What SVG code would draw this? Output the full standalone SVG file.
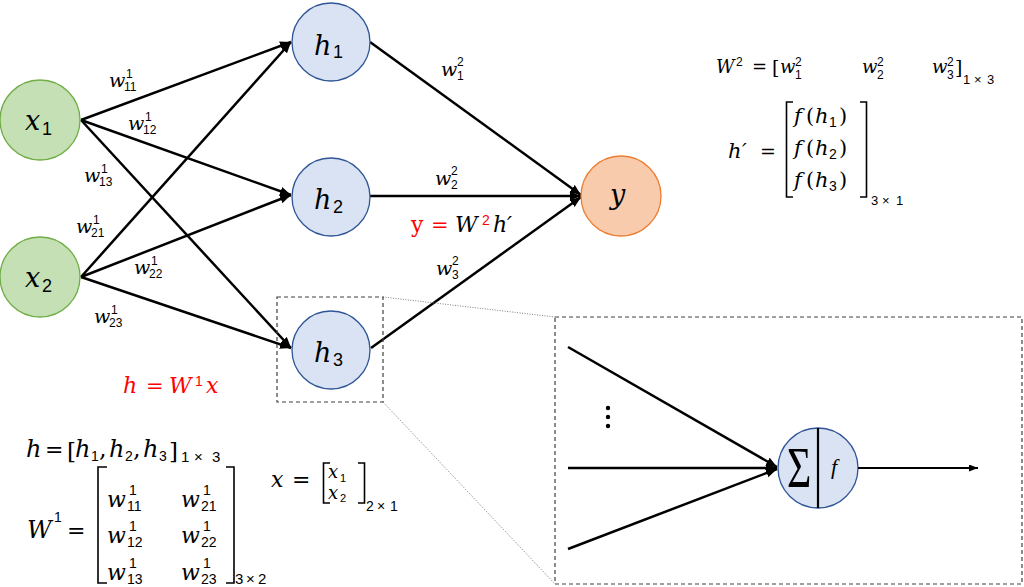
<svg xmlns="http://www.w3.org/2000/svg" width="1024" height="587" viewBox="0 0 1024 587">
<style>
.in{fill:#c5e0b4;stroke:#70ad47;stroke-width:1.3}
.hid{fill:#dae3f3;stroke:#2f5597;stroke-width:1.3}
.out{fill:#f8cbad;stroke:#ed7d31;stroke-width:1.3}
.edge{stroke:#000;stroke-width:2.5;fill:none;marker-end:url(#ah)}
.thin{stroke:#000;stroke-width:2;fill:none}
.dash{fill:none;stroke:#404040;stroke-width:1.2;stroke-dasharray:4 3}
.dot{fill:none;stroke:#808080;stroke-width:1;stroke-dasharray:1 1.5}
.br{fill:none;stroke:#000;stroke-width:1.6}
.m{font-family:"DejaVu Serif",serif;font-style:italic;fill:#000}
.u{font-family:"DejaVu Serif",serif;font-style:normal}
.n{font-family:"Liberation Sans",Arial,sans-serif;font-style:normal}
.node{font-size:27px}
.ns{font-size:18px}
.wl{font-size:19px}
.sd{font-size:12px}
.red{fill:#ff0000}
</style>
<defs>
<marker id="ah" markerUnits="userSpaceOnUse" markerWidth="12" markerHeight="10" refX="11" refY="4.5" orient="auto">
<path d="M0,0 L11,4.5 L0,9 z" fill="#000"/>
</marker>
<marker id="ahs" markerUnits="userSpaceOnUse" markerWidth="10" markerHeight="8" refX="9" refY="3.5" orient="auto">
<path d="M0,0 L9,3.5 L0,7 z" fill="#000"/>
</marker>
</defs>
<rect width="1024" height="587" fill="#fff"/>

<g id="connectors">
<path class="edge" d="M81,120 L291,42"/>
<path class="edge" d="M81,120 L291,195"/>
<path class="edge" d="M81,120 L291,348"/>
<path class="edge" d="M81,277 L291,42"/>
<path class="edge" d="M81,277 L291,195"/>
<path class="edge" d="M81,277 L291,348"/>
<path class="edge" d="M370,42 L581,195"/>
<path class="edge" d="M370,196 L581,196"/>
<path class="edge" d="M371,348 L581,197"/>
<path class="dot" d="M383,297 L555,317"/>
<path class="dot" d="M383,402 L555,584"/>
</g>

<g id="edge-labels">
<text class="m wl" x="109" y="87">w<tspan class="n sd" x="126" y="78">1</tspan><tspan class="n sd" x="124" y="91">11</tspan></text>
<text class="m wl" x="128" y="130">w<tspan class="n sd" x="145" y="121">1</tspan><tspan class="n sd" x="143" y="134">12</tspan></text>
<text class="m wl" x="84" y="182">w<tspan class="n sd" x="101" y="173">1</tspan><tspan class="n sd" x="99" y="186">13</tspan></text>
<text class="m wl" x="76" y="233">w<tspan class="n sd" x="93" y="224">1</tspan><tspan class="n sd" x="91" y="237">21</tspan></text>
<text class="m wl" x="134" y="274">w<tspan class="n sd" x="151" y="265">1</tspan><tspan class="n sd" x="149" y="278">22</tspan></text>
<text class="m wl" x="94" y="323">w<tspan class="n sd" x="111" y="314">1</tspan><tspan class="n sd" x="109" y="327">23</tspan></text>
<text class="m wl" x="441" y="76">w<tspan class="n sd" x="457" y="66">2</tspan><tspan class="n sd" x="457" y="80">1</tspan></text>
<text class="m wl" x="435" y="185">w<tspan class="n sd" x="451" y="175">2</tspan><tspan class="n sd" x="451" y="189">2</tspan></text>
<text class="m wl" x="436" y="275">w<tspan class="n sd" x="452" y="265">2</tspan><tspan class="n sd" x="452" y="279">3</tspan></text>
</g>

<g id="x1"><circle class="in" cx="40" cy="120" r="40"/><text class="m node" x="25" y="130">x<tspan class="n ns" x="42" y="135">1</tspan></text></g>
<g id="x2"><circle class="in" cx="40" cy="277" r="40"/><text class="m node" x="25" y="287">x<tspan class="n ns" x="42" y="292">2</tspan></text></g>
<g id="h1"><circle class="hid" cx="331" cy="42" r="39"/><text class="m node" x="314" y="55">h<tspan class="n ns" x="333" y="58">1</tspan></text></g>
<g id="h2"><circle class="hid" cx="331" cy="197" r="39"/><text class="m node" x="314" y="209">h<tspan class="n ns" x="333" y="213">2</tspan></text></g>
<g id="h3"><circle class="hid" cx="331" cy="350" r="39"/><text class="m node" x="314" y="362">h<tspan class="n ns" x="333" y="366">3</tspan></text></g>
<g id="y"><circle class="out" cx="621" cy="196" r="40"/><text class="m node" x="610" y="204">y</text></g>

<g id="zoom-box-small"><rect class="dash" x="277" y="297" width="106" height="105"/></g>

<g id="neuron-detail">
<rect class="dash" x="555" y="317" width="467" height="267"/>
<path class="edge" d="M568,347 L777,467"/>
<path class="edge" d="M568,468 L777,468"/>
<path class="edge" d="M568,549 L777,469"/>
<circle cx="608" cy="408" r="2.2" fill="#000"/>
<circle cx="608" cy="417" r="2.2" fill="#000"/>
<circle cx="608" cy="426" r="2.2" fill="#000"/>
<circle class="hid" cx="818" cy="468" r="40"/>
<line x1="818" y1="428" x2="818" y2="508" stroke="#000" stroke-width="2.2"/>
<text font-family="Liberation Serif,serif" font-size="58" transform="translate(787,487) scale(0.72,1)">Σ</text>
<text font-family="Liberation Serif,serif" font-style="italic" font-size="22" x="831" y="474">f</text>
<path class="thin" d="M858,468 L978,468" marker-end="url(#ahs)"/>
</g>

<g id="eq-red1">
<text class="m red" font-size="22" x="123" y="393">h<tspan class="u" font-size="21" x="146">=</tspan><tspan x="169">W</tspan><tspan class="n" font-size="14" x="195" y="386">1</tspan><tspan x="206" y="393">x</tspan></text>
</g>
<g id="eq-red2">
<text class="u red" font-size="22" x="411" y="232">y<tspan font-size="21" x="431">=</tspan><tspan class="m" x="455">W</tspan><tspan class="n" font-size="14" x="482" y="225">2</tspan><tspan class="m" x="493" y="232">h</tspan><tspan class="m" x="507">′</tspan></text>
</g>

<g id="eq-W2">
<text class="m" font-size="18" x="716" y="73">W<tspan class="n" font-size="12" x="736" y="66">2</tspan><tspan class="u" font-size="18" x="752" y="73">=</tspan><tspan class="u" font-size="19" x="772" y="74">[</tspan><tspan x="780" y="73">w</tspan><tspan class="n" font-size="12" x="795" y="66">2</tspan><tspan class="n" font-size="12" x="795" y="79">1</tspan><tspan x="862" y="73">w</tspan><tspan class="n" font-size="12" x="877" y="66">2</tspan><tspan class="n" font-size="12" x="877" y="79">2</tspan><tspan x="932" y="73">w</tspan><tspan class="n" font-size="12" x="947" y="66">2</tspan><tspan class="n" font-size="12" x="947" y="79">3</tspan><tspan class="u" font-size="19" x="955" y="74">]</tspan><tspan class="n" font-size="13" x="963" y="84">1</tspan><tspan class="n" font-size="13" x="974" y="84">×</tspan><tspan class="n" font-size="13" x="987" y="84">3</tspan></text>
</g>

<g id="eq-hprime">
<text class="m" font-size="21" x="728" y="158">h<tspan x="742">′</tspan><tspan class="u" font-size="19" x="760">=</tspan></text>
<path class="br" d="M793,102 H786.5 V197 H793"/>
<path class="br" d="M860,102 H866.5 V197 H860"/>
<text class="m" font-size="21" x="794" y="123">f<tspan class="u" x="806">(</tspan><tspan x="815">h</tspan><tspan class="n" font-size="14" x="829" y="127">1</tspan><tspan class="u" x="839" y="123">)</tspan></text>
<text class="m" font-size="21" x="794" y="155">f<tspan class="u" x="806">(</tspan><tspan x="815">h</tspan><tspan class="n" font-size="14" x="829" y="159">2</tspan><tspan class="u" x="839" y="155">)</tspan></text>
<text class="m" font-size="21" x="794" y="187">f<tspan class="u" x="806">(</tspan><tspan x="815">h</tspan><tspan class="n" font-size="14" x="829" y="191">3</tspan><tspan class="u" x="839" y="187">)</tspan></text>
<text class="n" font-size="13" x="871" y="205">3<tspan x="882">×</tspan><tspan x="896">1</tspan></text>
</g>

<g id="eq-h">
<text class="m" font-size="24" x="26" y="457">h<tspan class="u" font-size="22" x="45">=</tspan><tspan class="u" font-size="23" x="67" y="459">[</tspan><tspan x="75" y="457">h</tspan><tspan class="n" font-size="14" x="91" y="461">1</tspan><tspan class="u" x="99" y="457">,</tspan><tspan x="109">h</tspan><tspan class="n" font-size="14" x="125" y="461">2</tspan><tspan class="u" x="133" y="457">,</tspan><tspan x="143">h</tspan><tspan class="n" font-size="14" x="159" y="461">3</tspan><tspan class="u" font-size="23" x="169" y="459">]</tspan><tspan class="n" font-size="15" x="181" y="462">1</tspan><tspan class="n" font-size="15" x="194" y="462">×</tspan><tspan class="n" font-size="15" x="212" y="462">3</tspan></text>
</g>

<g id="eq-W1">
<text class="m" font-size="24" x="27" y="538">W<tspan class="n" font-size="14" x="54" y="522">1</tspan><tspan class="u" font-size="22" x="67" y="538">=</tspan></text>
<path class="br" d="M107,467 H98 V583 H107"/>
<path class="br" d="M226,467 H234 V583 H226"/>
<text class="m" font-size="22" x="107" y="507">w<tspan class="n" font-size="14" x="129" y="495">1</tspan><tspan class="n" font-size="14" x="127" y="511">11</tspan><tspan x="181" y="507">w</tspan><tspan class="n" font-size="14" x="203" y="495">1</tspan><tspan class="n" font-size="14" x="201" y="511">21</tspan></text>
<text class="m" font-size="22" x="107" y="543">w<tspan class="n" font-size="14" x="129" y="531">1</tspan><tspan class="n" font-size="14" x="127" y="547">12</tspan><tspan x="181" y="543">w</tspan><tspan class="n" font-size="14" x="203" y="531">1</tspan><tspan class="n" font-size="14" x="201" y="547">22</tspan></text>
<text class="m" font-size="22" x="107" y="580">w<tspan class="n" font-size="14" x="129" y="568">1</tspan><tspan class="n" font-size="14" x="127" y="584">13</tspan><tspan x="181" y="580">w</tspan><tspan class="n" font-size="14" x="203" y="568">1</tspan><tspan class="n" font-size="14" x="201" y="584">23</tspan></text>
<text class="n" font-size="15" x="235" y="584">3<tspan x="246">×</tspan><tspan x="258">2</tspan></text>
</g>

<g id="eq-x">
<text class="m" font-size="22" x="271" y="487">x<tspan class="u" font-size="22" x="292">=</tspan></text>
<path class="br" d="M330,463 H323.5 V503 H330"/>
<path class="br" d="M358,463 H364.5 V503 H358"/>
<text class="m" font-size="18" x="328" y="478">x<tspan class="n" font-size="11" x="340" y="482">1</tspan></text>
<text class="m" font-size="18" x="328" y="499">x<tspan class="n" font-size="11" x="340" y="502">2</tspan></text>
<text class="n" font-size="14" x="366" y="511">2<tspan x="377">×</tspan><tspan x="390">1</tspan></text>
</g>
</svg>
